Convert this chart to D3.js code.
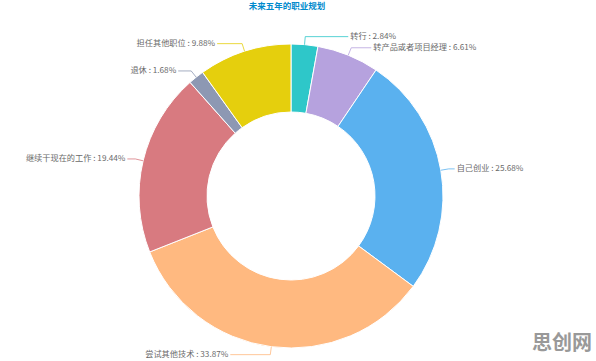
<!DOCTYPE html>
<html>
<head>
<meta charset="utf-8">
<script src="https://cdn.jsdelivr.net/npm/d3@7"></script>
<style>
  html, body { margin: 0; padding: 0; background: #fff; }
  #chart { width: 596px; height: 361px; }
  text { font-family: "Noto Sans CJK SC", "Noto Sans", sans-serif; }
</style>
</head>
<body>
<div id="chart"></div>
<script>
const title = "未来五年的职业规划";
const categories = ["转行", "转产品或者项目经理", "自己创业", "尝试其他技术", "继续干现在的工作", "退休", "担任其他职位"];
const percents = [2.84, 6.61, 25.68, 33.87, 19.44, 1.68, 9.88];
const colors = ["#2ec7c9", "#b6a2de", "#5ab1ef", "#ffb980", "#d87a80", "#8d98b3", "#e5cf0d"];
// horizontal leader length per label (layout only)
const leaderLen2 = [43, 20, 6, 40, 8, 13, 25];

const width = 596;
const height = 361;
const cx = 291;
const cy = 196;
const outerR = 152;
const innerR = 84;

const rows = categories.map((name, i) => ({ name, value: percents[i], i }));

const svg = d3.select("#chart")
  .append("svg")
  .attr("width", width)
  .attr("height", height)
  .attr("viewBox", `0 0 ${width} ${height}`);

svg.append("text")
  .attr("x", 287)
  .attr("y", 9)
  .attr("text-anchor", "middle")
  .attr("font-size", 8.5)
  .attr("font-weight", "bold")
  .attr("fill", "#008acd")
  .text(title);

const color = d3.scaleOrdinal().domain(categories).range(colors);

const pie = d3.pie()
  .sort(null)
  .value((d) => d.value);

const arcs = pie(rows);

const arc = d3.arc().innerRadius(innerR).outerRadius(outerR);

const g = svg.append("g").attr("transform", `translate(${cx}, ${cy})`);

g.selectAll("path.slice")
  .data(arcs)
  .enter()
  .append("path")
  .attr("class", "slice")
  .attr("d", arc)
  .attr("fill", (d) => color(d.data.name))
  .attr("stroke", "#fff")
  .attr("stroke-width", 1);

const pointAt = (angle, r) => [r * Math.sin(angle), -r * Math.cos(angle)];

const labels = arcs.map((d) => {
  const mid = (d.startAngle + d.endAngle) / 2;
  const p0 = pointAt(mid, outerR);
  const p1 = pointAt(mid, outerR + 8);
  const right = Math.sin(mid) >= 0;
  const p2 = [p1[0] + (right ? 1 : -1) * leaderLen2[d.data.i], p1[1]];
  return { d, p0, p1, p2, right };
});

g.selectAll("polyline.leader")
  .data(labels)
  .enter()
  .append("polyline")
  .attr("class", "leader")
  .attr("points", (l) => [l.p0, l.p1, l.p2].map((p) => p.join(",")).join(" "))
  .attr("fill", "none")
  .attr("stroke", (l) => color(l.d.data.name))
  .attr("stroke-width", 0.8);

g.selectAll("text.label")
  .data(labels)
  .enter()
  .append("text")
  .attr("class", "label")
  .attr("x", (l) => l.p2[0] + (l.right ? 2 : -2))
  .attr("y", (l) => l.p2[1])
  .attr("dominant-baseline", "middle")
  .attr("text-anchor", (l) => (l.right ? "start" : "end"))
  .attr("font-size", 8.2)
  .attr("fill", "#6a6a6a")
  .text((l) => `${l.d.data.name} : ${l.d.data.value.toFixed(2)}%`);

svg.append("text")
  .attr("x", 592)
  .attr("y", 350)
  .attr("text-anchor", "end")
  .attr("font-size", 20)
  .attr("font-weight", "bold")
  .attr("fill", "#999")
  .text("思创网");
</script>
</body>
</html>
